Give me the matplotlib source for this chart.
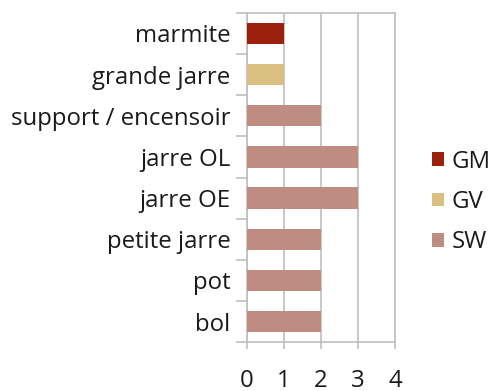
import numpy as np
import matplotlib
matplotlib.use("Agg")
import matplotlib.pyplot as plt
from matplotlib.ticker import FixedLocator

plt.rcParams["font.family"] = ["Open Sans", "DejaVu Sans"]

categories = ["marmite", "grande jarre", "support / encensoir", "jarre OL",
              "jarre OE", "petite jarre", "pot", "bol"]
gm = [1, 0, 0, 0, 0, 0, 0, 0]
gv = [0, 1, 0, 0, 0, 0, 0, 0]
sw = [0, 0, 2, 3, 3, 2, 2, 2]
series = ["GM", "GV", "SW"]
colors = ["#9C210D", "#D9C081", "#BE8C81"]

grid_col = "#BFBFBF"
text_col = "#1A1A1A"
fs = 17.3

fig = plt.figure(figsize=(5, 3.91), dpi=100)
ax = fig.add_axes([0.494, 0.125, 0.296, 0.842])

y = np.arange(len(categories))
left = np.zeros(len(categories))
for name, vals, c in zip(series, [gm, gv, sw], colors):
    vals = np.array(vals, dtype=float)
    ax.barh(y, vals, left=left, height=0.52, color=c, label=name, zorder=3)
    left += vals

ax.set_ylim(len(categories) - 0.5, -0.5)
ax.set_xlim(0, 4)
ax.set_xticks(range(5))
ax.set_yticks(y)
ax.set_yticklabels(categories)
# tick marks sit between categories, labels sit on the bar centres
ax.yaxis.set_minor_locator(FixedLocator(np.arange(-0.5, len(categories), 1)))

ax.grid(axis="x", color=grid_col, linewidth=1.2, zorder=0)
for s in ax.spines.values():
    s.set_color(grid_col)
    s.set_linewidth(1.2)

ax.tick_params(axis="y", which="major", length=0, pad=12, labelsize=fs, colors=text_col)
ax.tick_params(axis="y", which="minor", length=8, width=1.2, color=grid_col)
ax.tick_params(axis="x", which="major", length=5, width=1.2, color=grid_col,
               pad=14, labelsize=fs, labelcolor=text_col)

ax.legend(loc="center left", bbox_to_anchor=(0.845, 0.483),
          bbox_transform=fig.transFigure, frameon=False,
          fontsize=fs, handlelength=0.5, handleheight=0.5, handletextpad=0.3,
          labelspacing=0.68, labelcolor=text_col, borderaxespad=0)

fig.savefig("out.png", dpi=100)
